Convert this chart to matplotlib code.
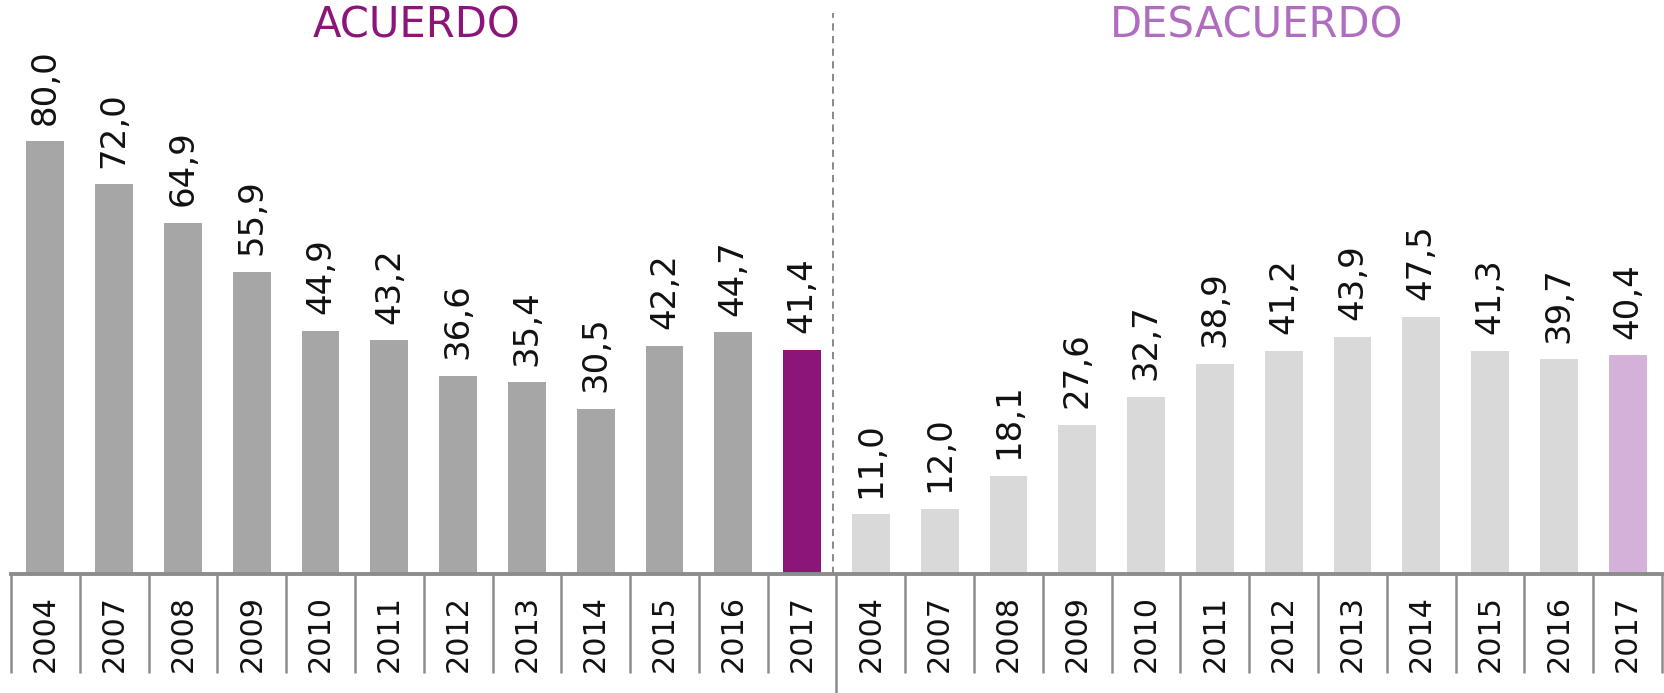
import matplotlib
matplotlib.use("Agg")
import matplotlib.pyplot as plt
from matplotlib.transforms import blended_transform_factory

years = ["2004", "2007", "2008", "2009", "2010", "2011", "2012", "2013", "2014", "2015", "2016", "2017"]
acuerdo = [80.0, 72.0, 64.9, 55.9, 44.9, 43.2, 36.6, 35.4, 30.5, 42.2, 44.7, 41.4]
desacuerdo = [11.0, 12.0, 18.1, 27.6, 32.7, 38.9, 41.2, 43.9, 47.5, 41.3, 39.7, 40.4]
group_titles = ["ACUERDO", "DESACUERDO"]

c_acu = "#a6a6a6"
c_acu_hi = "#8b1579"
c_des = "#d9d9d9"
c_des_hi = "#d4b1d9"
c_title = ["#8b1579", "#b06cbe"]
axis_col = "#8c8c8c"

plt.rcParams['font.family'] = ['DejaVu Sans']

W, H = 1665, 693
fig = plt.figure(figsize=(W / 100, H / 100), dpi=100)
left, right, base = 11, 1662, 574
ax = fig.add_axes([left / W, (H - base) / H, (right - left) / W, base / H])

n = len(years)
values = acuerdo + desacuerdo
labels = years + years
colors = [c_acu] * (n - 1) + [c_acu_hi] + [c_des] * (n - 1) + [c_des_hi]
xs = list(range(2 * n))

ax.bar(xs, values, width=0.55, color=colors, zorder=2)
ax.set_xlim(-0.5, 2 * n - 0.5)
ax.set_ylim(0, base / 5.41)

for s in ["top", "right", "left"]:
    ax.spines[s].set_visible(False)
ax.spines["bottom"].set_color(axis_col)
ax.spines["bottom"].set_linewidth(2.8)
ax.set_yticks([])
ax.set_xticks([])

for x, v in zip(xs, values):
    ax.annotate(f"{v:.1f}".replace(".", ","), (x, v), xytext=(0, 12),
                textcoords="offset points", rotation=90, ha="center", va="bottom",
                fontsize=24.5, color="#111111")

tr = blended_transform_factory(ax.transData, ax.transAxes)
for x, lab in zip(xs, labels):
    ax.text(x, -(633 - base) / base, lab, transform=tr, rotation=90,
            ha="center", va="center", fontsize=21.8, color="#111111")

# separators below axis
for k in range(2 * n + 1):
    xb = k - 0.5
    ybot = -(673 - base) / base
    if k == n:
        ybot = -(H - base) / base
    ax.plot([xb, xb], [0, ybot], transform=tr, color=axis_col, lw=1.8,
            clip_on=False, solid_capstyle="butt")

# dashed divider
ax.plot([n - 0.55, n - 0.55], [0, (base - 13) / base], transform=tr,
        color="#7f7f7f", lw=1.3, ls=(0, (4, 3)), clip_on=False)

ax.text(5.4, (base - 25) / base, group_titles[0], transform=tr, ha="center",
        va="center", fontsize=30, color=c_title[0])
ax.text(17.6, (base - 25) / base, group_titles[1], transform=tr, ha="center",
        va="center", fontsize=30, color=c_title[1])

fig.savefig("out.png", dpi=100)
